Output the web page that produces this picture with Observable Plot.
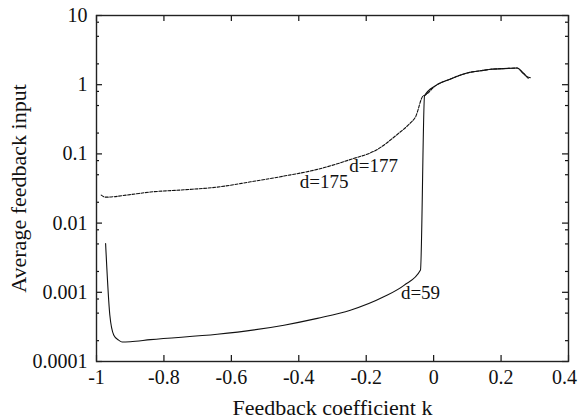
<!DOCTYPE html>
<html><head><meta charset="utf-8">
<script src="https://cdn.jsdelivr.net/npm/d3@7"></script>
<script src="https://cdn.jsdelivr.net/npm/@observablehq/plot@0.6"></script>
<style>body{margin:0;background:#fff}</style>
</head><body><div id="chart"></div>
<script>
// d=59 curve (solid)
const kD59 = [-0.973, -0.9605, -0.9486, -0.935, -0.924, -0.90, -0.84, -0.642, -0.444, -0.345, -0.247, -0.148, -0.088, -0.039, -0.027, 0.006, 0.05, 0.10, 0.139, 0.169, 0.222, 0.248, 0.263, 0.277, 0.287];
const yD59 = [0.00506, 0.00047, 0.00024, 0.000205, 0.000191, 0.000193, 0.000207, 0.000247, 0.000335, 0.00042, 0.00055, 0.00086, 0.00126, 0.0021, 0.69, 0.97, 1.21, 1.48, 1.59, 1.67, 1.72, 1.74, 1.5, 1.3, 1.26];
// d=175 / d=177 curve (dashed)
const kD175 = [-0.986, -0.973, -0.90, -0.84, -0.74, -0.642, -0.543, -0.444, -0.345, -0.247, -0.167, -0.108, -0.069, -0.054, -0.031, -0.027, 0.006, 0.05, 0.10, 0.139, 0.169, 0.222, 0.248, 0.263, 0.275, 0.280, 0.284];
const yD175 = [0.0254, 0.0237, 0.0258, 0.0281, 0.0303, 0.0331, 0.0395, 0.0478, 0.0597, 0.083, 0.116, 0.191, 0.28, 0.34, 0.69, 0.70, 0.97, 1.21, 1.48, 1.59, 1.67, 1.72, 1.74, 1.52, 1.33, 1.24, 1.29];

const xTicks = [-1, -0.8, -0.6, -0.4, -0.2, 0, 0.2, 0.4];
const xTickLabels = ["-1", "-0.8", "-0.6", "-0.4", "-0.2", "0", "0.2", "0.4"];
const yTicks = [0.0001, 0.001, 0.01, 0.1, 1, 10];
const yTickLabels = ["0.0001", "0.001", "0.01", "0.1", "1", "10"];
const yMinorTicks = [0.0002, 0.0005, 0.0008, 0.002, 0.005, 0.008, 0.02, 0.05, 0.08, 0.2, 0.5, 0.8, 2, 5, 8];

const curveLabels = ["d=177", "d=175", "d=59"];
const labelK = [-0.178, -0.325, -0.039];
const labelY = [0.0667, 0.0392, 0.00097];

const xTitle = "Feedback coefficient k";
const yTitle = "Average feedback input";

const W = 578, H = 420, mL = 96, mR = 10, mT = 15, mB = 59;
const pw = W - mL - mR, ph = H - mT - mB;

const d59 = kD59.map((k, i) => ({k, v: yD59[i]}));
const d175 = kD175.map((k, i) => ({k, v: yD175[i]}));
const labels = curveLabels.map((t, i) => ({t, k: labelK[i], v: labelY[i]}));
const fmtX = d => xTickLabels[xTicks.indexOf(d)];

const chart = Plot.plot({
  width: W, height: H,
  marginLeft: mL, marginRight: mR, marginTop: mT, marginBottom: mB,
  style: {fontFamily: "'Liberation Serif', 'DejaVu Serif', serif", fontSize: "20px", color: "#111", background: "#fff"},
  x: {domain: [-1, 0.4], label: null},
  y: {type: "log", domain: [0.0001, 10], label: null},
  marks: [
    Plot.line(d59, {x: "k", y: "v", stroke: "#111", strokeWidth: 1.1, curve: "monotone-x"}),
    Plot.line(d175, {x: "k", y: "v", stroke: "#111", strokeWidth: 1.1, strokeDasharray: "3,1.5", curve: "monotone-x"}),
    Plot.text(labels, {x: "k", y: "v", text: "t", fontSize: 19, fill: "#111", textAnchor: "middle"}),
    // ticks (inward)
    Plot.tickX(xTicks, {x: d => d, insetTop: ph - 6, stroke: "#111", strokeWidth: 1.2}),
    Plot.tickX(xTicks, {x: d => d, insetBottom: ph - 6, stroke: "#111", strokeWidth: 1.2}),
    Plot.tickY(yTicks, {y: d => d, insetRight: pw - 6, stroke: "#111", strokeWidth: 1.2}),
    Plot.tickY(yTicks, {y: d => d, insetLeft: pw - 6, stroke: "#111", strokeWidth: 1.2}),
    Plot.tickY(yMinorTicks, {y: d => d, insetRight: pw - 3, stroke: "#111", strokeWidth: 1.2}),
    Plot.tickY(yMinorTicks, {y: d => d, insetLeft: pw - 3, stroke: "#111", strokeWidth: 1.2}),
    Plot.frame({stroke: "#222", strokeWidth: 1.4}),
    Plot.axisX(xTicks.slice(0, -1), {tickSize: 0, tickPadding: 8, tickFormat: fmtX, fontSize: 20, label: null}),
    Plot.axisX(xTicks.slice(-1), {tickSize: 0, tickPadding: 8, tickFormat: fmtX, fontSize: 20, label: null, dx: -4}),
    Plot.axisY(yTicks, {tickSize: 0, tickPadding: 9, tickFormat: d => yTickLabels[yTicks.indexOf(d)], fontSize: 20, label: null}),
    Plot.text([xTitle], {frameAnchor: "bottom", text: d => d, dy: 46, lineAnchor: "middle", textAnchor: "middle", fontSize: 22, fill: "#111"}),
    Plot.text([yTitle], {frameAnchor: "left", text: d => d, rotate: -90, dx: -78, lineAnchor: "middle", textAnchor: "middle", fontSize: 22, fill: "#111"})
  ]
});
document.getElementById("chart").appendChild(chart);
</script>
</body></html>
